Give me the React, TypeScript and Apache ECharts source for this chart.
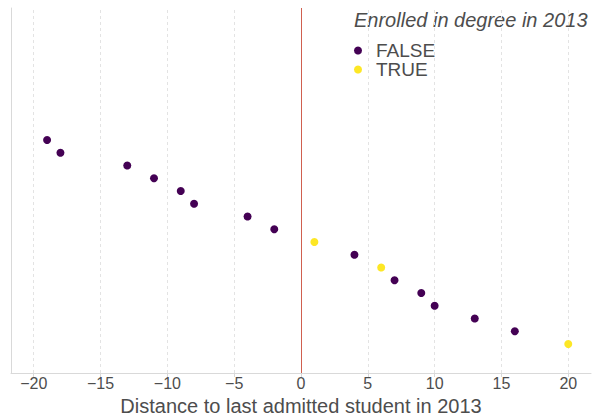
import React, { useEffect, useRef } from "react";
import * as echarts from "echarts";

const distances = [-19, -18, -13, -11, -9, -8, -4, -2, 1, 4, 6, 7, 9, 10, 13, 16, 20];
const enrolled = [false, false, false, false, false, false, false, false, true, false, true, false, false, false, false, false, true];
const ranks = [17, 16, 15, 14, 13, 12, 11, 10, 9, 8, 7, 6, 5, 4, 3, 2, 1];
const tickValues = [-20, -15, -10, -5, 0, 5, 10, 15, 20];
const gridValues = [-20, -15, -10, -5, 5, 10, 15, 20];
const legendNames = ["FALSE", "TRUE"];
const colors = ["#440154", "#FDE725"];

export default function App() {
  const ref = useRef<HTMLDivElement>(null);
  useEffect(() => {
    if (!ref.current) return;
    const chart = echarts.init(ref.current, undefined, { renderer: "svg" });
    const falsePts: number[][] = [];
    const truePts: number[][] = [];
    distances.forEach((d, i) => {
      (enrolled[i] ? truePts : falsePts).push([d, ranks[i]]);
    });
    const font = "Liberation Sans, Arial, sans-serif";
    chart.setOption({
      animation: false,
      textStyle: { fontFamily: font },
      grid: { left: 11, right: 3, top: 8, bottom: 44, outerBoundsMode: "none", containLabel: false },
      xAxis: {
        type: "value",
        min: -21.7,
        max: 21.7,
        name: "Distance to last admitted student in 2013",
        nameLocation: "middle",
        nameGap: 22,
        nameTextStyle: { fontSize: 20, color: "#4d4d4d", fontFamily: font, verticalAlign: "top" },
        axisLine: { show: true, onZero: false, lineStyle: { color: "#d9d9d9", width: 1 } },
        axisTick: { show: true, length: 4, customValues: tickValues, lineStyle: { color: "#d9d9d9" } },
        axisLabel: {
          customValues: tickValues,
          fontSize: 16,
          color: "#4d4d4d",
          margin: 2,
          fontFamily: font,
          formatter: (v: number) => String(v).replace("-", "\u2212"),
        },
        splitLine: { show: false },
      },
      yAxis: {
        type: "value",
        min: -1.27,
        max: 27.35,
        axisLine: { show: true, onZero: false, lineStyle: { color: "#d9d9d9", width: 1 } },
        axisTick: { show: false },
        axisLabel: { show: false },
        splitLine: { show: false },
      },
      legend: {
        data: legendNames,
        orient: "vertical",
        left: 349,
        top: 36,
        itemGap: 0,
        itemWidth: 8,
        itemHeight: 8,
        icon: "circle",
        textStyle: { fontSize: 19, color: "#4d4d4d", lineHeight: 19, padding: [0, 0, 0, 9], fontFamily: font },
      },
      graphic: [
        {
          type: "text",
          left: 354,
          top: 10,
          style: {
            text: "Enrolled in degree in 2013",
            fontSize: 20,
            fontStyle: "italic",
            fill: "#4d4d4d",
            fontFamily: font,
          },
        },
      ],
      series: [
        {
          name: "grid",
          type: "scatter",
          data: [],
          silent: true,
          z: 1,
          markLine: {
            silent: true,
            symbol: "none",
            z: 1,
            label: { show: false },
            lineStyle: { color: "#e3e3e3", type: [3, 3], width: 1 },
            data: gridValues.map((v) => ({ xAxis: v })),
          },
        },
        {
          name: "zero",
          type: "scatter",
          data: [],
          silent: true,
          z: 1,
          markLine: {
            silent: true,
            symbol: "none",
            z: 1,
            label: { show: false },
            lineStyle: { color: "#d0604f", type: "solid", width: 1 },
            data: [{ xAxis: 0 }],
          },
        },
        {
          name: legendNames[0],
          type: "scatter",
          data: falsePts,
          symbolSize: 8,
          z: 5,
          itemStyle: { color: colors[0], opacity: 1 },
        },
        {
          name: legendNames[1],
          type: "scatter",
          data: truePts,
          symbolSize: 8,
          z: 5,
          itemStyle: { color: colors[1], opacity: 1 },
        },
      ],
    });
    return () => chart.dispose();
  }, []);
  return <div ref={ref} style={{ width: 594, height: 417, position: "absolute", left: 0, top: 0 }} />;
}
